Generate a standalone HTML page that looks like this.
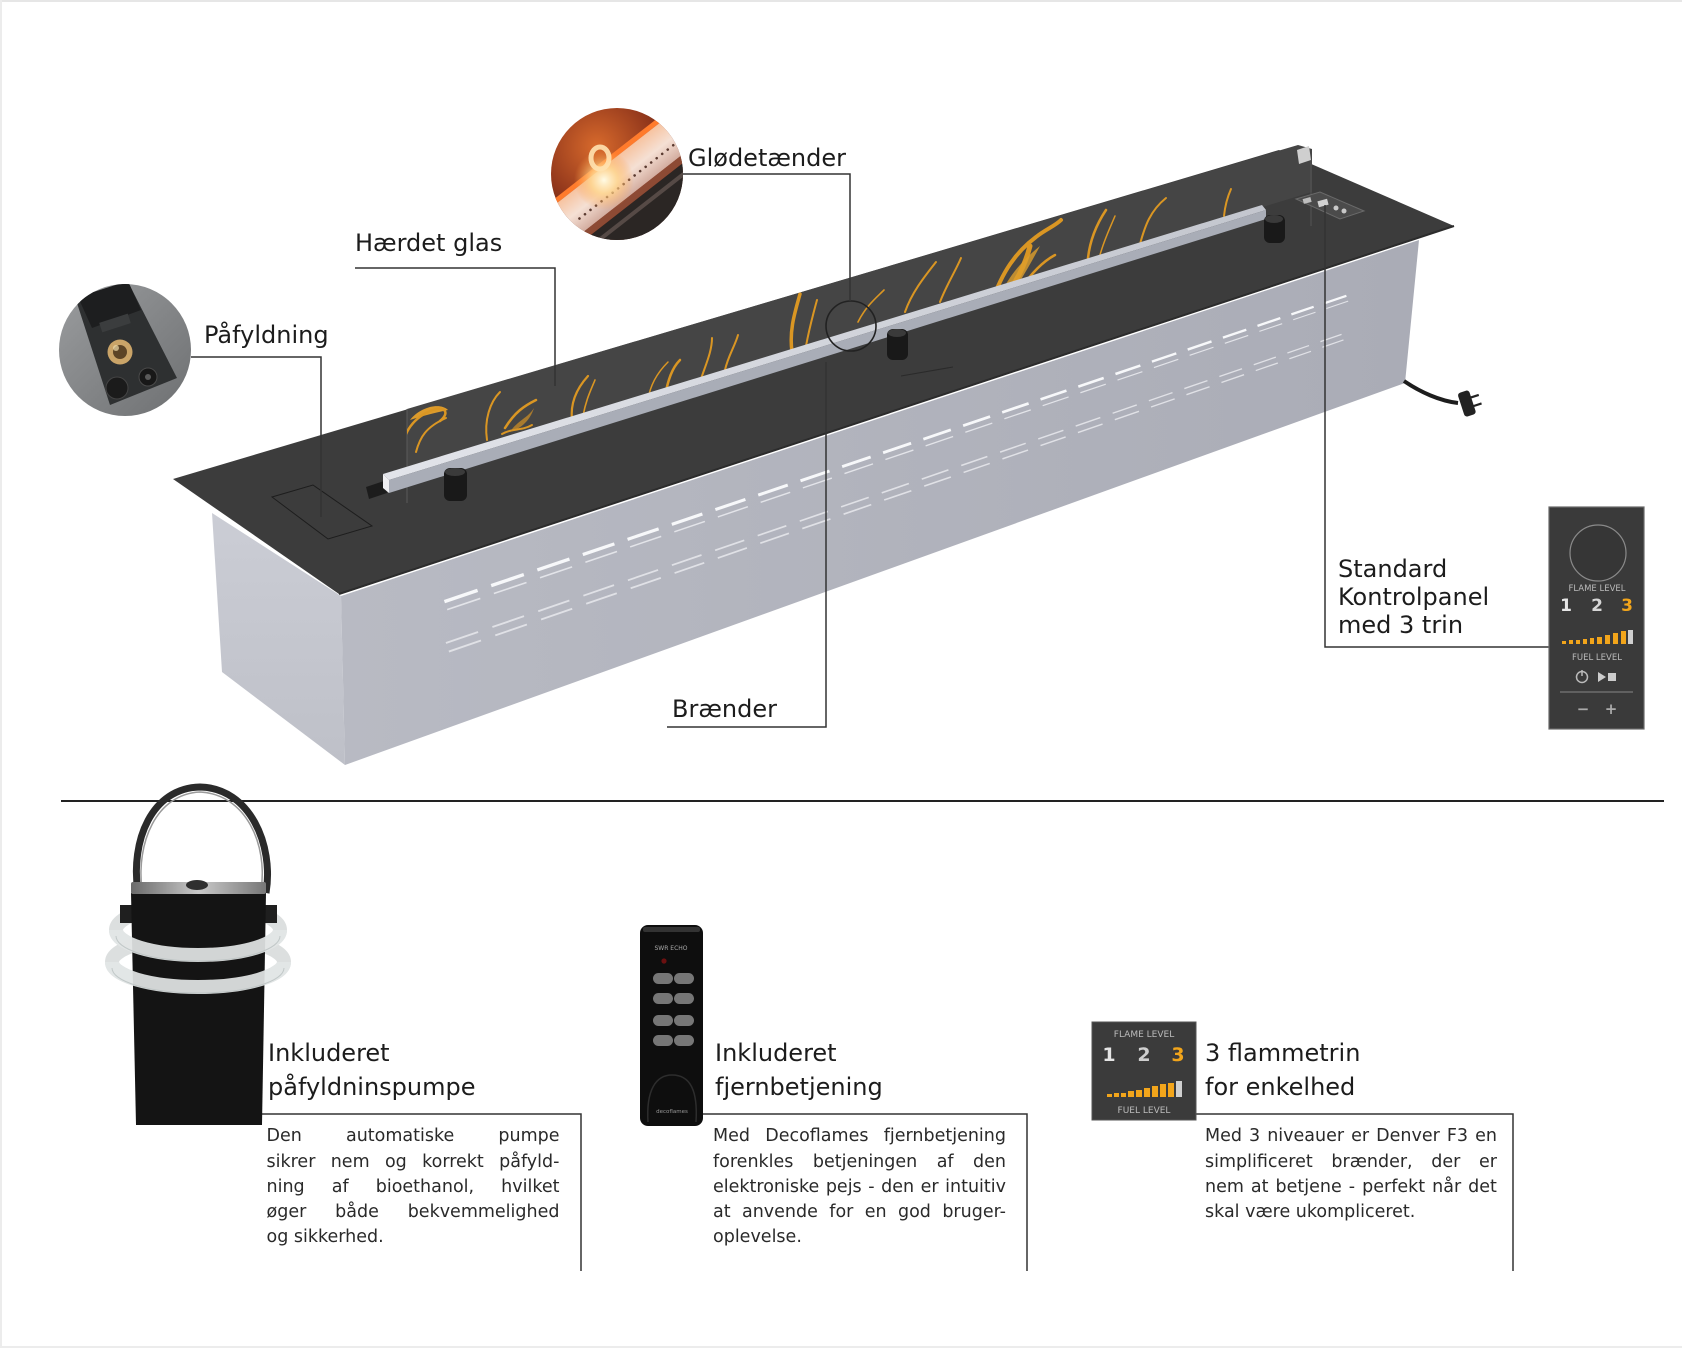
<!DOCTYPE html>
<html><head><meta charset="utf-8">
<style>
html,body{margin:0;padding:0;background:#fff;}
#wrap{position:relative;width:1682px;height:1348px;overflow:hidden;background:#fff;}
svg{position:absolute;left:0;top:0;}
.para{position:absolute;width:293px;font-family:"DejaVu Sans","Liberation Sans",sans-serif;font-size:17.5px;line-height:25.3px;color:#2a2a2a;}
.ln{display:flex;justify-content:space-between;height:25.3px;white-space:nowrap;}
.lt{height:25.3px;white-space:nowrap;}
</style></head>
<body><div id="wrap">
<svg width="1682" height="1348" viewBox="0 0 1682 1348" xmlns="http://www.w3.org/2000/svg">
<defs>
  <linearGradient id="gLeft" x1="0" y1="0" x2="0" y2="1"><stop offset="0" stop-color="#cbcdd5"/><stop offset="1" stop-color="#bec0c8"/></linearGradient>
  <linearGradient id="gFront" x1="0" y1="0" x2="1" y2="0"><stop offset="0" stop-color="#b8bac3"/><stop offset="1" stop-color="#aaacb6"/></linearGradient>
  <linearGradient id="gRailTop" x1="0" y1="0" x2="1" y2="0"><stop offset="0" stop-color="#e2e4ea"/><stop offset="1" stop-color="#c3c6ce"/></linearGradient>
  <radialGradient id="gEmber" cx="0.35" cy="0.3" r="0.8"><stop offset="0" stop-color="#d86a2c"/><stop offset="0.5" stop-color="#93381c"/><stop offset="1" stop-color="#3e1a10"/></radialGradient>
  <radialGradient id="gGlow" cx="0.5" cy="0.5" r="0.5"><stop offset="0" stop-color="#fffbe6" stop-opacity="1"/><stop offset="0.45" stop-color="#ffd58a" stop-opacity="0.8"/><stop offset="1" stop-color="#ff9a40" stop-opacity="0"/></radialGradient>
  <linearGradient id="gBand" x1="0" y1="0" x2="0" y2="1"><stop offset="0" stop-color="#f7c3a0"/><stop offset="0.5" stop-color="#f5e0d4"/><stop offset="1" stop-color="#d3ada0"/></linearGradient>
  <linearGradient id="gGray" x1="0" y1="0" x2="1" y2="1"><stop offset="0" stop-color="#9c9ea0"/><stop offset="1" stop-color="#6c6e70"/></linearGradient>
  <linearGradient id="gLid" x1="0" y1="0" x2="1" y2="0"><stop offset="0" stop-color="#6a6a6a"/><stop offset="0.5" stop-color="#c9c9c9"/><stop offset="1" stop-color="#777"/></linearGradient>
  <clipPath id="c1"><circle cx="125" cy="350" r="66"/></clipPath>
  <clipPath id="c2"><circle cx="617" cy="174" r="66"/></clipPath>
  <clipPath id="cGlass"><polygon points="407,409 1298,145 1312,149 1312,192 407,467"/></clipPath>
  <g id="su"><line x1="-17.5" y1="0" x2="17.5" y2="0" stroke="#f7f8fa" stroke-width="3.4"/><line x1="-17.5" y1="8.5" x2="17.5" y2="8.5" stroke="#e3e4e9" stroke-width="1.6"/></g>
  <g id="sl"><line x1="-17" y1="0" x2="17" y2="0" stroke="#e0e1e6" stroke-width="1.9"/><line x1="-17" y1="9" x2="17" y2="9" stroke="#e0e1e6" stroke-width="1.9"/></g>
</defs>

<!-- frame edges -->
<rect x="0" y="0" width="1682" height="2" fill="#e6e6e6"/>
<rect x="0" y="0" width="2" height="1348" fill="#ececec"/>
<rect x="0" y="1346" width="1682" height="2" fill="#ececec"/>

<!-- ===== BURNER BOX ===== -->
<polygon points="212,513 341,596 345,765 222,672" fill="url(#gLeft)"/>
<polygon points="341,596 1419,240 1405,383 345,765" fill="url(#gFront)"/>

<!-- slots upper row -->
<g>
<use href="#su" transform="translate(461,596) rotate(-18.7) scale(1)"/>
<use href="#su" transform="translate(507.5,580.1) rotate(-18.7) scale(.984)"/>
<use href="#su" transform="translate(553.4,564.5) rotate(-18.7) scale(.969)"/>
<use href="#su" transform="translate(598.6,549.2) rotate(-18.7) scale(.953)"/>
<use href="#su" transform="translate(643.1,534.1) rotate(-18.7) scale(.938)"/>
<use href="#su" transform="translate(687.1,519.2) rotate(-18.7) scale(.922)"/>
<use href="#su" transform="translate(730.4,504.5) rotate(-18.7) scale(.906)"/>
<use href="#su" transform="translate(773,490.1) rotate(-18.7) scale(.891)"/>
<use href="#su" transform="translate(815,475.9) rotate(-18.7) scale(.875)"/>
<use href="#su" transform="translate(856.4,461.8) rotate(-18.7) scale(.86)"/>
<use href="#su" transform="translate(897.1,448) rotate(-18.7) scale(.844)"/>
<use href="#su" transform="translate(937.1,434.5) rotate(-18.7) scale(.829)"/>
<use href="#su" transform="translate(976.6,421.1) rotate(-18.7) scale(.813)"/>
<use href="#su" transform="translate(1015.4,407.9) rotate(-18.7) scale(.797)"/>
<use href="#su" transform="translate(1053.5,395) rotate(-18.7) scale(.782)"/>
<use href="#su" transform="translate(1091,382.3) rotate(-18.7) scale(.766)"/>
<use href="#su" transform="translate(1127.9,369.8) rotate(-18.7) scale(.751)"/>
<use href="#su" transform="translate(1164.1,357.5) rotate(-18.7) scale(.735)"/>
<use href="#su" transform="translate(1199.6,345.5) rotate(-18.7) scale(.719)"/>
<use href="#su" transform="translate(1234.6,333.7) rotate(-18.7) scale(.704)"/>
<use href="#su" transform="translate(1268.9,322) rotate(-18.7) scale(.688)"/>
<use href="#su" transform="translate(1302.5,310.6) rotate(-18.7) scale(.673)"/>
<use href="#su" transform="translate(1335.5,299.5) rotate(-18.7) scale(.657)"/>
</g>
<!-- slots lower row -->
<g>
<use href="#sl" transform="translate(462,637.5) rotate(-19) scale(1)"/>
<use href="#sl" transform="translate(508.2,621.6) rotate(-19) scale(.984)"/>
<use href="#sl" transform="translate(553.8,605.9) rotate(-19) scale(.969)"/>
<use href="#sl" transform="translate(598.7,590.4) rotate(-19) scale(.953)"/>
<use href="#sl" transform="translate(643,575.1) rotate(-19) scale(.938)"/>
<use href="#sl" transform="translate(686.7,560.1) rotate(-19) scale(.922)"/>
<use href="#sl" transform="translate(729.7,545.3) rotate(-19) scale(.906)"/>
<use href="#sl" transform="translate(772,530.7) rotate(-19) scale(.891)"/>
<use href="#sl" transform="translate(813.8,516.3) rotate(-19) scale(.875)"/>
<use href="#sl" transform="translate(854.9,502.1) rotate(-19) scale(.86)"/>
<use href="#sl" transform="translate(895.3,488.2) rotate(-19) scale(.844)"/>
<use href="#sl" transform="translate(935.1,474.5) rotate(-19) scale(.829)"/>
<use href="#sl" transform="translate(974.3,461) rotate(-19) scale(.813)"/>
<use href="#sl" transform="translate(1012.9,447.7) rotate(-19) scale(.797)"/>
<use href="#sl" transform="translate(1050.8,434.6) rotate(-19) scale(.782)"/>
<use href="#sl" transform="translate(1088,421.8) rotate(-19) scale(.766)"/>
<use href="#sl" transform="translate(1124.7,409.1) rotate(-19) scale(.751)"/>
<use href="#sl" transform="translate(1160.7,396.7) rotate(-19) scale(.735)"/>
<use href="#sl" transform="translate(1195.9,384.6) rotate(-19) scale(.719)"/>
<use href="#sl" transform="translate(1230.7,372.6) rotate(-19) scale(.704)"/>
<use href="#sl" transform="translate(1264.8,360.9) rotate(-19) scale(.688)"/>
<use href="#sl" transform="translate(1298.2,349.3) rotate(-19) scale(.673)"/>
<use href="#sl" transform="translate(1331,338) rotate(-19) scale(.657)"/>
</g>

<!-- power cord -->
<path d="M1404,381 C1420,392 1440,401 1458,403" stroke="#1d1d1d" stroke-width="4" fill="none"/>
<g transform="translate(1467,404) rotate(-18)">
  <rect x="-6" y="-13" width="12" height="25" rx="3" fill="#222"/>
  <line x1="5" y1="-5" x2="14" y2="-5" stroke="#222" stroke-width="2.2"/>
  <line x1="5" y1="4" x2="14" y2="4" stroke="#222" stroke-width="2.2"/>
</g>

<!-- top plate -->
<polygon points="173,479 1279,150 1454,226 339,594" fill="#3c3c3c"/>
<line x1="339" y1="594" x2="1454" y2="226" stroke="#2c2c2c" stroke-width="2"/>
<!-- glass pane -->
<polygon points="407,409 1298,145 1312,149 1312,192 407,467" fill="#454545"/>
<polygon points="1297,150 1309,146 1311,160 1299,164" fill="#cfcfcf"/>
<line x1="1311" y1="160" x2="1311" y2="226" stroke="#555" stroke-width="1"/>
<line x1="407" y1="409" x2="407" y2="503" stroke="#5a5a5a" stroke-width="1"/>
<!-- flames -->
<g clip-path="url(#cGlass)" fill="none" stroke="#eba020" stroke-linecap="round" opacity="0.9">
  <path d="M410,420 C420,407 440,402 448,410 C438,412 422,416 410,420Z" fill="#eea52a" stroke="none"/>
  <path d="M404,455 C400,436 412,419 430,411 C444,405 451,412 440,421" stroke-width="2.5"/>
  <path d="M416,452 C420,437 426,427 446,418" stroke-width="2"/>
  <path d="M487,440 C484,420 490,402 500,392" stroke-width="2"/>
  <path d="M505,428 C515,412 524,406 536,400" stroke-width="2.5"/>
  <path d="M502,434 C512,428 522,431 532,425" stroke-width="2"/>
  <path d="M510,432 C518,420 528,418 534,408 C530,420 522,428 510,432Z" fill="#e49a22" stroke="none" opacity="0.7"/>
  <path d="M572,420 C570,402 578,387 588,376" stroke-width="2.2"/>
  <path d="M583,416 C586,400 590,392 595,380" stroke-width="1.6"/>
  <path d="M648,400 C650,385 658,372 668,362" stroke-width="1.5"/>
  <path d="M665,396 C668,380 672,368 680,360" stroke-width="2.5"/>
  <path d="M700,382 C705,366 712,352 712,338" stroke-width="2"/>
  <path d="M725,370 C728,356 735,346 738,335" stroke-width="2"/>
  <path d="M792,352 C789,330 795,312 800,294" stroke-width="3.5"/>
  <path d="M806,346 C809,330 812,318 817,300" stroke-width="2"/>
  <path d="M858,322 C866,306 876,298 884,290" stroke-width="1.6"/>
  <path d="M905,312 C912,292 925,276 936,262" stroke-width="2"/>
  <path d="M940,302 C946,286 955,272 961,258" stroke-width="2"/>
  <path d="M992,302 C1002,272 1016,252 1036,237 C1046,229 1055,226 1061,220" stroke-width="4"/>
  <path d="M1002,302 C1016,282 1025,266 1030,246" stroke-width="5"/>
  <path d="M998,300 C1006,280 1020,262 1040,246 C1030,265 1018,285 1008,300Z" fill="#f0aa2a" stroke="none" opacity="0.8"/>
  <path d="M1020,290 C1030,275 1042,262 1055,255" stroke-width="2.5"/>
  <path d="M1088,258 C1090,240 1096,225 1106,210" stroke-width="2.5"/>
  <path d="M1100,255 C1104,240 1110,228 1115,216" stroke-width="1.5"/>
  <path d="M1140,244 C1145,226 1150,211 1166,198" stroke-width="2"/>
  <path d="M1224,216 C1225,206 1227,198 1231,189" stroke-width="2"/>
</g>
<!-- rail slot recess -->
<polygon points="366,487 384,481 387,493 369,499" fill="#1c1c1c"/>
<!-- rail -->
<polygon points="383,474 1262,205 1266,210 389,480" fill="url(#gRailTop)"/>
<polygon points="389,480 1266,210 1266,219 389,493" fill="#a9adb7"/>
<polygon points="383,474 389,480 389,493 383,488" fill="#f0f0f3"/>
<!-- thin line on plate -->
<line x1="901" y1="376" x2="953" y2="367" stroke="#2a2a2a" stroke-width="1"/>
<!-- posts -->
<g fill="#191919">
  <rect x="444" y="468" width="23" height="33" rx="6"/>
  <rect x="887" y="329" width="21" height="31" rx="6"/>
  <rect x="1264" y="215" width="21" height="28" rx="6"/>
</g>
<g fill="#3a3a3a">
  <ellipse cx="455" cy="472" rx="10" ry="4"/>
  <ellipse cx="897" cy="333" rx="9" ry="4"/>
  <ellipse cx="1274" cy="219" rx="9" ry="4"/>
</g>
<!-- control panel on plate -->
<polygon points="1296,199 1320,192 1364,211 1340,219" fill="#4b4b4b" stroke="#6a6a6a" stroke-width="1"/>
<rect x="1303" y="198" width="8" height="5" fill="#bdbdbd" transform="rotate(-15 1307 200)"/>
<rect x="1318" y="200" width="10" height="6" fill="#d0d0d0" transform="rotate(-15 1323 203)"/>
<circle cx="1336" cy="208" r="2.5" fill="#c8c8c8"/>
<circle cx="1344" cy="211" r="2.5" fill="#c8c8c8"/>
<!-- filler box outline -->
<polygon points="272,497 313,485 372,526 328,539" fill="none" stroke="#1d1d1d" stroke-width="1"/>

<!-- burner marker circle -->
<circle cx="851" cy="326" r="25" fill="none" stroke="#222" stroke-width="1.6"/>

<!-- ===== leader lines ===== -->
<g stroke="#333" stroke-width="1.5" fill="none">
  <polyline points="191,357 321,357 321,517"/>
  <polyline points="355,268 555,268 555,386"/>
  <polyline points="683,174 850,174 850,301"/>
  <polyline points="667,727 826,727 826,362"/>
  <polyline points="1325,205 1325,647 1553,647"/>
  <polyline points="252,1114 581,1114 581,1271"/>
  <polyline points="700,1114 1027,1114 1027,1271"/>
  <polyline points="1195,1114 1513,1114 1513,1271"/>
</g>
<line x1="61" y1="801" x2="1664" y2="801" stroke="#222" stroke-width="2"/>

<!-- ===== Påfyldning photo ===== -->
<g clip-path="url(#c1)">
  <rect x="55" y="280" width="140" height="140" fill="url(#gGray)"/>
  <polygon points="76,300 128,282 177,378 110,405" fill="#2e3031"/>
  <polygon points="78,297 128,281 141,310 92,328" fill="#1d1e1f"/>
  <rect x="100" y="318" width="30" height="10" fill="#3b3d3e" transform="rotate(-18 115 323)"/>
  <circle cx="120" cy="352" r="12.5" fill="#caa468"/>
  <circle cx="120" cy="352" r="7" fill="#5c4426"/>
  <circle cx="116" cy="348" r="3" fill="#f0dcaa" opacity="0.7"/>
  <circle cx="117" cy="388" r="11" fill="#1b1b1b" stroke="#444" stroke-width="1"/>
  <circle cx="148" cy="377" r="9" fill="#181818" stroke="#4a4a4a" stroke-width="1"/>
  <circle cx="148" cy="377" r="3" fill="#5a5a5a"/>
</g>

<!-- ===== Glødetænder photo ===== -->
<g clip-path="url(#c2)">
  <rect x="548" y="105" width="140" height="140" fill="url(#gEmber)"/>
  <g transform="rotate(-38 617 174)">
    <rect x="520" y="155" width="200" height="5" fill="#ff7b2c"/>
    <rect x="520" y="160" width="200" height="39" fill="url(#gBand)"/>
    <rect x="520" y="199" width="200" height="7" fill="#8d4a34"/>
    <rect x="520" y="206" width="200" height="70" fill="#2b2624"/>
    <rect x="520" y="213" width="200" height="4" fill="#564a46"/>
    <g fill="#5a3a30">
      <circle cx="560" cy="186" r="1.3"/><circle cx="567" cy="186" r="1.3"/><circle cx="574" cy="186" r="1.3"/><circle cx="581" cy="186" r="1.3"/><circle cx="588" cy="186" r="1.3"/><circle cx="595" cy="186" r="1.3"/><circle cx="602" cy="186" r="1.3"/><circle cx="609" cy="186" r="1.3"/><circle cx="616" cy="186" r="1.3"/><circle cx="623" cy="186" r="1.3"/><circle cx="630" cy="186" r="1.3"/><circle cx="637" cy="186" r="1.3"/><circle cx="644" cy="186" r="1.3"/><circle cx="651" cy="186" r="1.3"/><circle cx="658" cy="186" r="1.3"/><circle cx="665" cy="186" r="1.3"/><circle cx="672" cy="186" r="1.3"/><circle cx="679" cy="186" r="1.3"/>
    </g>
  </g>
  <circle cx="604" cy="180" r="30" fill="url(#gGlow)"/>
  <ellipse cx="600" cy="158" rx="9" ry="11" fill="none" stroke="#ffe2b0" stroke-width="5" opacity="0.9"/>
</g>

<!-- ===== control panel image ===== -->
<rect x="1549" y="507" width="95" height="222" fill="#3a3a3a" stroke="#6a6a6a" stroke-width="1.2"/>
<circle cx="1598" cy="553" r="28" fill="#363636" stroke="#8a8a8a" stroke-width="1.2"/>
<g font-family="DejaVu Sans, sans-serif" text-anchor="middle">
  <text x="1597" y="591" font-size="8.5" fill="#bbb">FLAME LEVEL</text>
  <text x="1566" y="611" font-size="17" font-weight="bold" fill="#e6e6e6">1</text>
  <text x="1597" y="611" font-size="17" font-weight="bold" fill="#d6d6d6">2</text>
  <text x="1627" y="611" font-size="17" font-weight="bold" fill="#f2a51b">3</text>
  <text x="1597" y="660" font-size="8.5" fill="#bbb">FUEL LEVEL</text>
  <text x="1583" y="714" font-size="15" font-weight="bold" fill="#aaa">−</text>
  <text x="1611" y="714" font-size="15" font-weight="bold" fill="#aaa">+</text>
</g>
<g fill="#f2a51b">
  <rect x="1562" y="641" width="4" height="3"/><rect x="1569" y="640" width="4" height="4"/><rect x="1576" y="640" width="4" height="4"/><rect x="1583" y="639" width="4" height="5"/><rect x="1590" y="638" width="4" height="6"/><rect x="1597" y="637" width="5" height="7"/><rect x="1605" y="635" width="5" height="9"/><rect x="1613" y="633" width="5" height="11"/><rect x="1621" y="631" width="5" height="13"/>
</g>
<rect x="1628" y="630" width="5" height="14" fill="#cfcfcf"/>
<circle cx="1582" cy="677" r="5.5" fill="none" stroke="#bbb" stroke-width="1.5"/>
<line x1="1582" y1="670" x2="1582" y2="676" stroke="#bbb" stroke-width="1.5"/>
<polygon points="1598,672 1598,682 1606,677" fill="#ccc"/>
<rect x="1608" y="673" width="8" height="8" fill="#ccc"/>
<line x1="1560" y1="692" x2="1633" y2="692" stroke="#777" stroke-width="1.2"/>

<!-- ===== labels ===== -->
<g font-family="DejaVu Sans, Liberation Sans, sans-serif" font-size="24" fill="#1c1c1c">
  <text x="204" y="343">Påfyldning</text>
  <text x="355" y="251">Hærdet glas</text>
  <text x="688" y="166">Glødetænder</text>
  <text x="672" y="717">Brænder</text>
  <text x="1338" y="577">Standard</text>
  <text x="1338" y="605">Kontrolpanel</text>
  <text x="1338" y="633">med 3 trin</text>
  <text x="268" y="1061">Inkluderet</text>
  <text x="268" y="1095">påfyldninspumpe</text>
  <text x="715" y="1061">Inkluderet</text>
  <text x="715" y="1095">fjernbetjening</text>
  <text x="1205" y="1061">3 flammetrin</text>
  <text x="1205" y="1095">for enkelhed</text>
</g>

<!-- ===== pump ===== -->
<path d="M138,893 C130,840 152,788 200,787 C250,788 274,845 266,893" stroke="#2a2a2a" stroke-width="7" fill="none"/>
<path d="M142,890 C136,843 156,794 200,792 C246,794 268,845 261,890" stroke="#9a9a9a" stroke-width="1.5" fill="none"/>
<ellipse cx="198" cy="930" rx="82" ry="25" fill="none" stroke="#d8dcdc" stroke-width="14" opacity="0.9"/>
<ellipse cx="198" cy="962" rx="86" ry="25" fill="none" stroke="#d8dcdc" stroke-width="14" opacity="0.9"/>
<rect x="120" y="905" width="12" height="18" fill="#1f1f1f"/>
<rect x="265" y="905" width="12" height="18" fill="#1f1f1f"/>
<polygon points="131,893 266,893 262,1125 136,1125" fill="#141414"/>
<rect x="131" y="882" width="135" height="12" rx="2" fill="url(#gLid)"/>
<ellipse cx="197" cy="885" rx="11" ry="5" fill="#2f2f2f"/>
<path d="M116,930 A82,25 0 0 0 280,930" fill="none" stroke="#e3e6e6" stroke-width="14" opacity="0.92"/>
<path d="M112,962 A86,25 0 0 0 284,962" fill="none" stroke="#e3e6e6" stroke-width="14" opacity="0.92"/>
<path d="M116,930 A82,25 0 0 0 280,930" fill="none" stroke="#b9c0c0" stroke-width="1" opacity="0.8" transform="translate(0,6)"/>
<path d="M112,962 A86,25 0 0 0 284,962" fill="none" stroke="#b9c0c0" stroke-width="1" opacity="0.8" transform="translate(0,6)"/>

<!-- ===== remote ===== -->
<rect x="640" y="925" width="63" height="201" rx="8" fill="#0e0e0e"/>
<rect x="643" y="927" width="57" height="5" rx="2" fill="#333"/>
<text x="671" y="950" font-family="DejaVu Sans, sans-serif" font-size="6" fill="#aaa" text-anchor="middle">SWR ECHO</text>
<circle cx="664" cy="961" r="2.6" fill="#6b1010"/>
<g fill="#767676">
  <rect x="653" y="973" width="20" height="11" rx="5.5"/><rect x="674" y="973" width="20" height="11" rx="5.5"/>
  <rect x="653" y="993" width="20" height="11" rx="5.5"/><rect x="674" y="993" width="20" height="11" rx="5.5"/>
  <rect x="653" y="1015" width="20" height="11" rx="5.5"/><rect x="674" y="1015" width="20" height="11" rx="5.5"/>
  <rect x="653" y="1035" width="20" height="11" rx="5.5"/><rect x="674" y="1035" width="20" height="11" rx="5.5"/>
</g>
<path d="M648,1122 C646,1090 656,1075 672,1075 C690,1075 698,1090 696,1122" fill="none" stroke="#2d2d2d" stroke-width="1.5"/>
<text x="672" y="1113" font-family="DejaVu Sans, sans-serif" font-size="5.5" fill="#999" text-anchor="middle">decoflames</text>

<!-- ===== flame level image ===== -->
<rect x="1092" y="1022" width="104" height="98" fill="#3b3b3b" stroke="#555" stroke-width="1"/>
<g font-family="DejaVu Sans, sans-serif" text-anchor="middle">
  <text x="1144" y="1037" font-size="9" fill="#bbb">FLAME LEVEL</text>
  <text x="1109" y="1061" font-size="19" font-weight="bold" fill="#e4e4e4">1</text>
  <text x="1144" y="1061" font-size="19" font-weight="bold" fill="#cfcfcf">2</text>
  <text x="1178" y="1061" font-size="19" font-weight="bold" fill="#f2a51b">3</text>
  <text x="1144" y="1113" font-size="9" fill="#bbb">FUEL LEVEL</text>
</g>
<g fill="#f2a51b">
  <rect x="1107" y="1094" width="5" height="3"/><rect x="1114" y="1093" width="5" height="4"/><rect x="1121" y="1093" width="5" height="4"/><rect x="1128" y="1091" width="6" height="6"/><rect x="1136" y="1090" width="6" height="7"/><rect x="1144" y="1088" width="6" height="9"/><rect x="1152" y="1086" width="6" height="11"/><rect x="1160" y="1084" width="6" height="13"/><rect x="1168" y="1083" width="6" height="14"/>
</g>
<rect x="1176" y="1081" width="6" height="16" fill="#cfcfcf"/>
</svg>

<div class="para" style="left:266.5px;top:1124.3px;">
  <div class="ln"><span>Den</span><span>automatiske</span><span>pumpe</span></div>
  <div class="ln"><span>sikrer</span><span>nem</span><span>og</span><span>korrekt</span><span>påfyld-</span></div>
  <div class="ln"><span>ning</span><span>af</span><span>bioethanol,</span><span>hvilket</span></div>
  <div class="ln"><span>øger</span><span>både</span><span>bekvemmelighed</span></div>
  <div class="lt">og sikkerhed.</div>
</div>
<div class="para" style="left:713px;top:1124.3px;">
  <div class="ln"><span>Med</span><span>Decoflames</span><span>fjernbetjening</span></div>
  <div class="ln"><span>forenkles</span><span>betjeningen</span><span>af</span><span>den</span></div>
  <div class="ln"><span>elektroniske</span><span>pejs</span><span>-</span><span>den</span><span>er</span><span>intuitiv</span></div>
  <div class="ln"><span>at</span><span>anvende</span><span>for</span><span>en</span><span>god</span><span>bruger-</span></div>
  <div class="lt">oplevelse.</div>
</div>
<div class="para" style="left:1205px;top:1124.3px;width:292px;">
  <div class="ln"><span>Med</span><span>3</span><span>niveauer</span><span>er</span><span>Denver</span><span>F3</span><span>en</span></div>
  <div class="ln"><span>simplificeret</span><span>brænder,</span><span>der</span><span>er</span></div>
  <div class="ln"><span>nem</span><span>at</span><span>betjene</span><span>-</span><span>perfekt</span><span>når</span><span>det</span></div>
  <div class="lt">skal være ukompliceret.</div>
</div>
</div></body></html>
